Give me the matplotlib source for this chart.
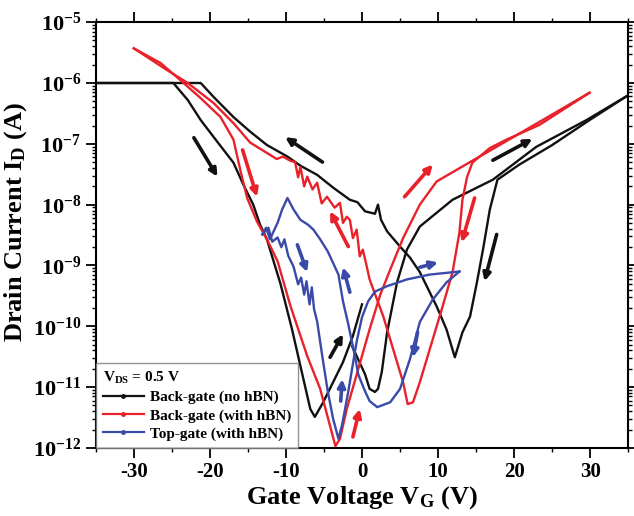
import matplotlib
matplotlib.use("Agg")
import matplotlib.pyplot as plt
import numpy as np
from matplotlib.lines import Line2D
from matplotlib.ticker import FixedLocator, MultipleLocator, LogLocator, NullFormatter

plt.rcParams["font.family"] = "Liberation Serif"
plt.rcParams["font.weight"] = "bold"
plt.rcParams["mathtext.fontset"] = "custom"
plt.rcParams["mathtext.rm"] = "Liberation Serif:bold"
plt.rcParams["mathtext.it"] = "Liberation Serif:bold"
plt.rcParams["mathtext.bf"] = "Liberation Serif:bold"

# --- data: gate voltage (V) and log10 of drain current (A) ---
# back-gate, no hBN: forward sweep (first dip)
bk_fwd_v = [-35, -24.8, -22.9, -21.2, -19.0, -16.9, -15.6, -14.3, -13.4, -12.5, -10.7,
            -9.2, -7.7, -6.8, -6.2, -5.1, -3.8, -2.5, -1.2, 0.0]
bk_fwd_i = [-6.0, -6.0, -6.28, -6.61, -6.97, -7.31, -7.67, -8.0, -8.33, -8.57, -9.31,
            -10.05, -10.87, -11.36, -11.49, -11.25, -10.92, -10.59, -10.16, -9.64]
# back-gate, no hBN: second dip up to +35 V
bk_mid_v = [-1.3, -0.3, 0.4, 1.0, 1.7, 2.1, 2.6, 3.3, 4.6, 5.9, 7.6, 11.9, 17.2, 22.9, 29.5, 35]
bk_mid_i = [-10.33, -10.6, -10.79, -11.03, -11.08, -11.03, -10.75, -10.10, -9.28, -8.74, -8.36,
            -7.92, -7.59, -7.05, -6.61, -6.20]
# back-gate, no hBN: reverse sweep
bk_rev_v = [-35, -21.2, -19.5, -16.9, -14.7, -12.5, -9.8, -8.1, -5.9, -3.8, -1.6, -0.6, 0.4,
            1.7, 2.1, 2.5, 3.3, 5.0, 6.3, 7.6, 9.8, 11.1, 12.2, 13.2, 14.2, 15.1, 15.9,
            16.8, 17.8, 20.7, 25.0, 29.9, 35]
bk_rev_i = [-6.0, -6.0, -6.23, -6.56, -6.80, -7.02, -7.21, -7.36, -7.51, -7.72, -7.92, -7.96,
            -8.11, -8.15, -8.00, -8.25, -8.44, -8.69, -8.87, -9.11, -9.67, -10.05, -10.51,
            -10.10, -9.84, -9.28, -8.74, -8.08, -7.59, -7.34, -7.02, -6.61, -6.20]

# back-gate, with hBN: forward sweep
rd_fwd_v = [-30.0, -26.5, -23.9, -21.2, -18.6, -16.9, -16.0, -15.1, -13.8, -12.5, -11.1,
            -9.4, -7.2, -5.5, -4.2, -3.5, -2.9, -2.0, -0.3, 1.0, 2.4, 3.7, 5.4, 7.6, 9.8,
            14.2, 18.5, 22.9, 29.9]
rd_fwd_i = [-5.43, -5.67, -5.95, -6.25, -6.56, -6.93, -7.43, -7.89, -8.28, -8.57, -8.93,
            -9.67, -10.49, -11.03, -11.64, -11.97, -11.85, -11.36, -10.62, -10.05, -9.48,
            -9.07, -8.55, -8.0, -7.62, -7.30, -6.99, -6.67, -6.16]
# back-gate, with hBN: reverse sweep (noisy on the left)
rd_rev_v = [29.9, 23.3, 19.0, 16.8, 14.5, 13.8, 13.2, 12.8, 11.9, 10.6, 8.9, 7.6, 6.7, 6.0,
            5.4, 4.1, 2.8, 1.0, 0.5, 0.1, -0.3, -0.7, -1.2, -1.6, -2.0, -2.5, -2.9, -3.6,
            -4.6, -5.3, -5.9, -6.5, -7.2, -7.6, -8.1, -8.4, -8.8, -9.4, -10.4, -11.2,
            -12.5, -14.7, -16.9, -19.5, -22.9, -25.6, -30.0]
rd_rev_i = [-6.16, -6.69, -6.93, -7.07, -7.31, -7.55, -7.92, -8.46, -9.11, -9.67, -10.38,
            -10.92, -11.25, -11.28, -10.92, -10.38, -9.84, -9.23, -8.95, -8.74, -8.85,
            -8.41, -8.55, -8.25, -8.20, -8.30, -7.97, -8.05, -7.87, -7.98, -7.64, -7.75,
            -7.54, -7.70, -7.38, -7.55, -7.30, -7.28, -7.21, -7.25, -7.15, -6.98, -6.66,
            -6.33, -6.0, -5.79, -5.43]

# top-gate, with hBN: forward sweep
bl_fwd_v = [-13.1, -12.3, -11.8, -11.1, -10.6, -10.2, -9.7, -9.0, -8.4, -8.0, -7.6, -7.3,
            -6.9, -6.6, -6.3, -5.9, -5.2, -4.5, -3.8, -3.1, -2.6, -1.8, -1.2, -0.7, 0.0,
            0.8, 1.7, 3.3, 5.9, 8.9, 12.8]
bl_fwd_i = [-8.49, -8.38, -8.61, -8.54, -8.70, -8.57, -8.84, -9.02, -9.31, -9.20, -9.48,
            -9.26, -9.64, -9.36, -9.72, -9.92, -10.51, -11.07, -11.52, -11.85, -11.61,
            -11.07, -10.62, -10.25, -9.85, -9.59, -9.43, -9.34, -9.23, -9.15, -9.10]
# top-gate, with hBN: reverse sweep
bl_rev_v = [12.8, 11.1, 9.3, 7.6, 6.3, 5.0, 3.7, 2.0, 1.0, 0.4, -0.5, -0.9, -1.8, -2.5,
            -3.1, -4.5, -5.5, -6.4, -7.1, -8.1, -9.0, -9.8, -10.5, -11.1, -12.1, -12.6, -13.1]
bl_rev_i = [-9.10, -9.28, -9.56, -9.93, -10.54, -11.03, -11.25, -11.33, -11.23, -11.07,
            -10.79, -10.51, -9.97, -9.59, -9.15, -8.77, -8.57, -8.41, -8.33, -8.25, -8.08,
            -7.89, -8.08, -8.30, -8.57, -8.38, -8.49]

# sweep-direction arrows: (tail V, tail log I, head V, head log I)
bk_arrows = [(-22.1, -6.90, -19.0, -7.54), (-5.2, -7.30, -10.1, -6.89),
             (-4.2, -10.51, -2.5, -10.13), (17.2, -7.27, 22.4, -6.92),
             (17.7, -8.49, 16.1, -9.26)]
rd_arrows = [(-15.7, -7.10, -13.8, -7.87), (-1.8, -8.69, -4.2, -8.11),
             (-1.2, -11.82, -0.3, -11.36), (5.6, -7.87, 9.3, -7.34),
             (14.8, -7.89, 13.1, -8.62)]
bl_arrows = [(-8.5, -8.66, -7.2, -9.11), (-1.6, -9.44, -2.5, -9.03),
             (-2.8, -11.23, -2.6, -10.87), (7.6, -9.03, 10.0, -8.95),
             (7.3, -10.10, 6.7, -10.51)]

labels = ["Back-gate (no hBN)", "Back-gate (with hBN)", "Top-gate (with hBN)"]
x_ticks = [-30, -20, -10, 0, 10, 20, 30]
y_exps = [-12, -11, -10, -9, -8, -7, -6, -5]

BLACK = "#111111"
RED = "#e8212b"
BLUE = "#3a4aa8"

fig = plt.figure(figsize=(6.34, 5.16), dpi=100)
ax = fig.add_axes([0.151, 0.132, 0.840, 0.825])

for v, i in [(bk_fwd_v, bk_fwd_i), (bk_mid_v, bk_mid_i), (bk_rev_v, bk_rev_i)]:
    ax.plot(v, 10.0 ** np.array(i), color=BLACK, lw=1.7)
for v, i in [(rd_fwd_v, rd_fwd_i), (rd_rev_v, rd_rev_i)]:
    ax.plot(v, 10.0 ** np.array(i), color=RED, lw=1.7)
for v, i in [(bl_fwd_v, bl_fwd_i), (bl_rev_v, bl_rev_i)]:
    ax.plot(v, 10.0 ** np.array(i), color=BLUE, lw=1.7)

for arrows, c in [(bk_arrows, BLACK), (rd_arrows, RED), (bl_arrows, BLUE)]:
    for x0, y0, x1, y1 in arrows:
        ax.annotate("", xy=(x1, 10.0 ** y1), xytext=(x0, 10.0 ** y0),
                    arrowprops=dict(arrowstyle="-|>", color=c, lw=2.6,
                                    mutation_scale=11, shrinkA=0, shrinkB=0))

ax.set_yscale("log")
ax.set_xlim(-35, 35)
ax.set_ylim(1e-12, 1e-5)

ax.xaxis.set_major_locator(FixedLocator(x_ticks))
ax.xaxis.set_minor_locator(MultipleLocator(5))
ax.set_xticklabels([str(t) for t in x_ticks])
ax.yaxis.set_major_locator(FixedLocator([10.0 ** e for e in y_exps]))
ax.yaxis.set_minor_locator(LogLocator(base=10, subs=np.arange(2, 10), numticks=20))
ax.yaxis.set_minor_formatter(NullFormatter())
ax.set_yticklabels([r"$10^{%d}$" % e for e in y_exps])

ax.tick_params(axis="x", which="both", direction="out", top=True, labelsize=15)
ax.tick_params(axis="y", which="both", direction="out", right=True, labelsize=16)
ax.tick_params(which="major", length=7, width=1.3)
ax.tick_params(which="minor", length=3, width=1.0)
for s in ax.spines.values():
    s.set_linewidth(1.5)

ax.set_xlabel(r"Gate Voltage V$_{G}$ (V)", fontsize=19, fontweight="bold", labelpad=1)
ax.set_ylabel(r"Drain Current I$_{D}$ (A)", fontsize=19, fontweight="bold")
ax.yaxis.set_label_coords(-0.125, 0.53)

handles = [Line2D([], [], color=c, lw=1.6, marker=".", ms=5) for c in (BLACK, RED, BLUE)]
leg = ax.legend(handles, labels, title=r"V$_{DS}$ = 0.5 V", loc="lower left",
                bbox_to_anchor=(0, 0), borderaxespad=0, fancybox=False,
                edgecolor="#777777", fontsize=11, title_fontsize=11,
                alignment="left", handlelength=2.7, handletextpad=0.4,
                labelspacing=0.3, borderpad=0.45)
leg.get_frame().set_linewidth(1.0)
leg.get_title().set_fontweight("bold")

fig.savefig("out.png", dpi=100)
